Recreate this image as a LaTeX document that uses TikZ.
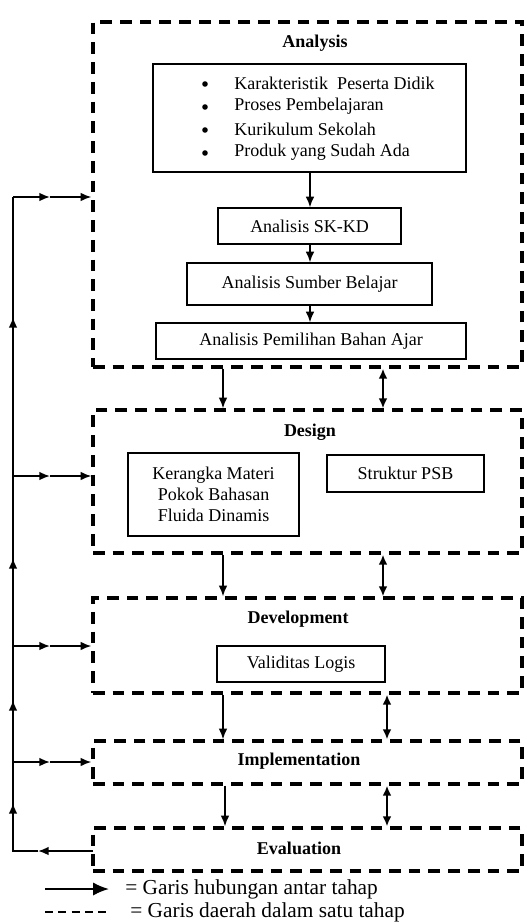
\documentclass[tikz,border=0pt]{standalone}
\usepackage{fontspec}
\setmainfont{Liberation Serif}
\usetikzlibrary{arrows.meta,fit}
\tikzset{
  stage/.style={draw, line width=2.5pt, dash pattern=on 8.8pt off 6pt, inner sep=0pt},
  inbox/.style={draw, line width=0.9pt, inner sep=0pt},
  ttl/.style={font=\fontsize{13.5}{16}\selectfont\bfseries},
  txt/.style={font=\fontsize{13.5}{16}\selectfont, inner sep=0pt},
  arr/.style={line width=1.3pt, -{Latex[length=8pt,width=6.5pt]}},
  darr/.style={line width=1.3pt, {Latex[length=7.5pt,width=6.5pt]}-{Latex[length=7.5pt,width=6.5pt]}},
  ln/.style={line width=1.3pt},
  bul/.style={circle, fill, inner sep=0pt, minimum size=4.2pt},
}
\begin{document}
\begin{tikzpicture}[x=0.75pt,y=-0.75pt]
\useasboundingbox (0,0) rectangle (525,924);
% stage boxes
\node[stage, fit={(93,22)(522,367)}] (A) {};
\node[stage, fit={(93,410)(522,553)}] (D) {};
\node[stage, fit={(93,598)(522,693)}] (Dv) {};
\node[stage, fit={(93,741)(522,784)}] (I) {};
\node[stage, fit={(93,828)(522,871)}] (E) {};
\node[ttl] at (315,43) {Analysis};
\node[ttl] at (310,432) {Design};
\node[ttl] at (298,619) {Development};
\node[ttl] at (299,761) {Implementation};
\node[ttl] at (299,848) {Evaluation};
% analysis contents
\node[inbox, fit={(153,64)(466,172)}] (B) {};
\foreach \yy/\t in {83/Karakteristik\ \ Peserta Didik, 106/Proses Pembelajaran, 129/Kurikulum Sekolah, 152/Produk yang Sudah Ada}{
  \node[bul] at (205,\yy+1) {};
  \node[txt, anchor=west] at (234,\yy) {\t};
}
\node[inbox, fit={(218,208)(401,244)}] (S1) {};
\node[txt] at (S1.center) {Analisis SK-KD};
\node[inbox, fit={(187,263)(432,305)}] (S2) {};
\node[txt] at (S2.center) {Analisis Sumber Belajar};
\node[inbox, fit={(156,323)(466,359)}] (S3) {};
\node[txt] at (S3.center) {Analisis Pemilihan Bahan Ajar};
\coordinate (ca) at (310,0);
\draw[arr] (B.south -| ca) -- (S1.north -| ca);
\draw[arr] (S1.south -| ca) -- (S2.north -| ca);
\draw[arr] (S2.south -| ca) -- (S3.north -| ca);
% design contents
\node[inbox, fit={(128,453)(299,536)}] (K) {};
\node[txt, align=center, font=\fontsize{13.5}{15.75}\selectfont] at (K.center) {Kerangka Materi\\Pokok Bahasan\\Fluida Dinamis};
\node[inbox, fit={(327,455)(484,492)}] (P) {};
\node[txt] at (P.center) {Struktur PSB};
% development contents
\node[inbox, fit={(217,646)(385,682)}] (V) {};
\node[txt] at (V.center) {Validitas Logis};
% arrows between stages
\coordinate (c1) at (223,0);
\coordinate (c2) at (383,0);
\coordinate (c3) at (225,0);
\coordinate (c4) at (387,0);
\draw[arr] (A.south -| c1) -- (D.north -| c1);
\draw[darr] (A.south -| c2) -- (D.north -| c2);
\draw[arr] (D.south -| c1) -- (Dv.north -| c1);
\draw[darr] (D.south -| c2) -- (Dv.north -| c2);
\draw[arr] (Dv.south -| c1) -- (I.north -| c1);
\draw[darr] (Dv.south -| c4) -- (I.north -| c4);
\draw[arr] (I.south -| c3) -- (E.north -| c3);
\draw[darr] (I.south -| c4) -- (E.north -| c4);
% feedback loop
\coordinate (v0) at (13,851);
\coordinate (e0) at (93,851);
\coordinate (m0) at (38,851);
\coordinate (v1) at (13,762);
\coordinate (v2) at (13,646);
\coordinate (v3) at (13,476);
\coordinate (v4) at (13,197);
\coordinate (u1) at (13,803);
\coordinate (u2) at (13,700);
\coordinate (u3) at (13,558);
\coordinate (u4) at (13,317);
\draw[arr] (e0) -- (m0);
\draw[ln] (m0) -- (v0) -- (v4);
\draw[arr] (v0) -- (u1);
\draw[arr] (v1) -- (u2);
\draw[arr] (v2) -- (u3);
\draw[arr] (v3) -- (u4);
\foreach \v/\b in {v1/I, v2/Dv, v3/D, v4/A}{
  \path (\v) ++(37,0) coordinate (mid-\v);
  \draw[arr] (\v) -- (mid-\v);
  \draw[arr] (mid-\v) -- (\v -| \b.west);
}
% legend
\coordinate (l1) at (45,889);
\coordinate (l2) at (109,889);
\draw[line width=1.5pt, -{Latex[length=12pt,width=10pt]}] (l1) -- (l2);
\node[anchor=west, inner sep=0pt, font=\fontsize{16}{18}\selectfont] at (125,889) {= Garis hubungan antar tahap};
\coordinate (l3) at (45,912);
\coordinate (l4) at (109,912);
\draw[line width=1.1pt, dash pattern=on 6pt off 4pt] (l3) -- (l4);
\node[anchor=west, inner sep=0pt, font=\fontsize{16}{18}\selectfont] at (130,912) {= Garis daerah dalam satu tahap};
\end{tikzpicture}
\end{document}
